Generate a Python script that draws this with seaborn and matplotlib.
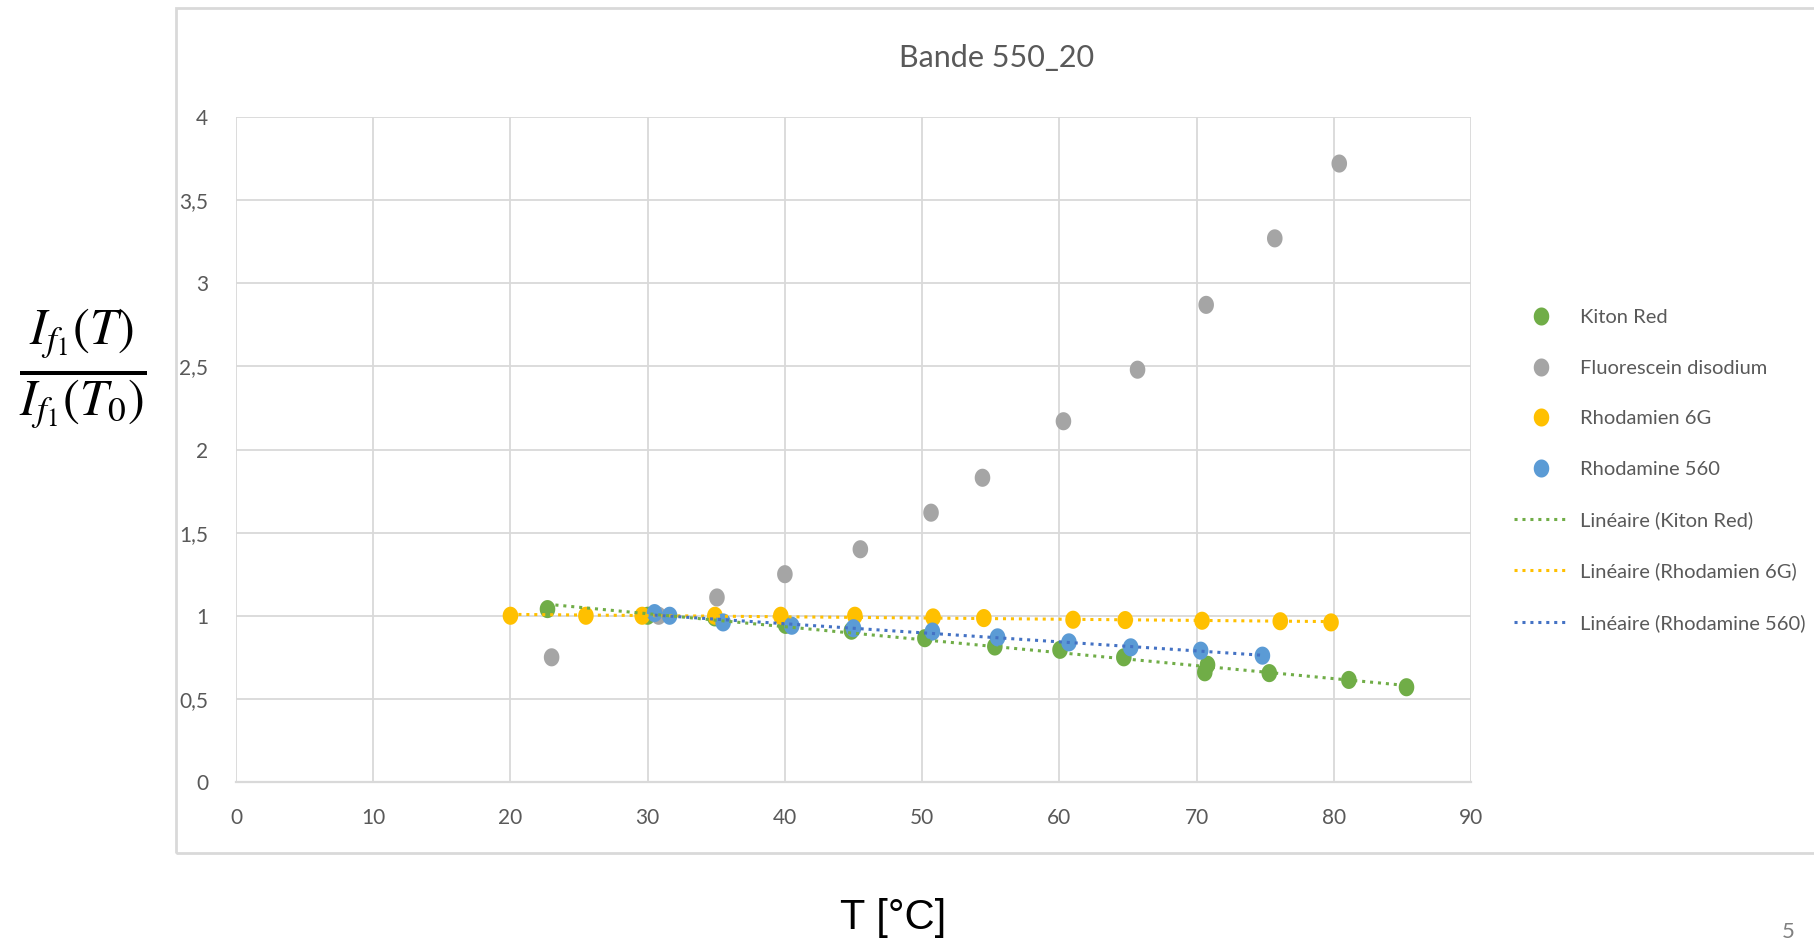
import numpy as np
import pandas as pd
import seaborn as sns
import matplotlib.pyplot as plt
from matplotlib.lines import Line2D
from matplotlib.patches import Rectangle
from matplotlib.path import Path

# values
kiton_t = [22.7, 30.0, 34.9, 40.05, 44.85, 50.2, 55.3, 60.05, 64.7, 70.6, 70.8, 75.3, 81.1, 85.3]
kiton_v = [1.04, 1.00, 0.99, 0.945, 0.91, 0.865, 0.815, 0.795, 0.75, 0.66, 0.705, 0.655, 0.614, 0.57]
fluo_t = [23.0, 30.8, 35.05, 40.0, 45.5, 50.65, 54.4, 60.3, 65.7, 70.7, 75.7, 80.4]
fluo_v = [0.75, 1.00, 1.11, 1.25, 1.40, 1.62, 1.83, 2.17, 2.48, 2.87, 3.27, 3.72]
rh6g_t = [20.0, 25.5, 29.6, 34.9, 39.7, 45.1, 50.8, 54.5, 61.0, 64.8, 70.4, 76.1, 79.8]
rh6g_v = [1.0, 1.0, 1.0, 1.0, 1.0, 1.0, 0.99, 0.986, 0.976, 0.974, 0.97, 0.967, 0.96]
rh560_t = [30.5, 31.6, 35.5, 40.5, 45.0, 50.75, 55.5, 60.7, 65.2, 70.3, 74.8]
rh560_v = [1.016, 1.0, 0.96, 0.94, 0.925, 0.905, 0.87, 0.84, 0.81, 0.79, 0.76]

names = ['Kiton Red', 'Fluorescein disodium', 'Rhodamien 6G', 'Rhodamine 560']
colors = ['#70AD47', '#A5A5A5', '#FFC000', '#5B9BD5']
trend_names = ['Kiton Red', 'Rhodamien 6G', 'Rhodamine 560']
trend_colors = ['#70AD47', '#FFC000', '#4472C4']
x_ticks = list(range(0, 100, 10))
y_ticks = [0, 0.5, 1, 1.5, 2, 2.5, 3, 3.5, 4]
y_labels = ['0', '0,5', '1', '1,5', '2', '2,5', '3', '3,5', '4']

df = pd.concat([
    pd.DataFrame({'T': kiton_t, 'ratio': kiton_v, 'dye': names[0]}),
    pd.DataFrame({'T': fluo_t, 'ratio': fluo_v, 'dye': names[1]}),
    pd.DataFrame({'T': rh6g_t, 'ratio': rh6g_v, 'dye': names[2]}),
    pd.DataFrame({'T': rh560_t, 'ratio': rh560_v, 'dye': names[3]}),
], ignore_index=True)

sns.set_style('white')
plt.rcParams['font.family'] = ['Lato', 'DejaVu Sans']
plt.rcParams['mathtext.fontset'] = 'stix'

# slightly tall ellipse marker like the excel dots
th = np.linspace(0, 2 * np.pi, 60)
dot = Path(np.column_stack([0.86 * np.cos(th), np.sin(th)]), closed=True)

fig = plt.figure(figsize=(18.14, 9.42), dpi=100)
ax = fig.add_axes([236 / 1814, 1 - 782 / 942, (1471 - 236) / 1814, (782 - 117) / 942])

sns.scatterplot(data=df, x='T', y='ratio', hue='dye', palette=dict(zip(names, colors)),
                marker=dot, s=170, linewidth=0, legend=False, ax=ax, zorder=3)

# excel style linear trendlines
for nm, c in zip(trend_names, trend_colors):
    sub = df[df['dye'] == nm]
    k, b = np.polyfit(sub['T'], sub['ratio'], 1)
    xs = np.array([sub['T'].min(), sub['T'].max()])
    ax.plot(xs, k * xs + b, color=c, lw=2.2, linestyle=(0, (1, 1.6)), zorder=4)

ax.set_xlim(0, 90)
ax.set_ylim(0, 4)
ax.set_xticks(x_ticks)
ax.set_yticks(y_ticks)
ax.set_yticklabels(y_labels)
ax.tick_params(axis='both', length=0, labelsize=15, labelcolor='#595959')
ax.tick_params(axis='x', pad=19)
ax.tick_params(axis='y', pad=20)
ax.grid(True, color='#D9D9D9', lw=1.3)
ax.set_axisbelow(True)
for s in ['top', 'right', 'left']:
    ax.spines[s].set_visible(False)
ax.spines['bottom'].set_color('#D9D9D9')
ax.spines['bottom'].set_linewidth(1.6)
ax.set_xlabel('')
ax.set_ylabel('')

fig.text(997 / 1814, 1 - 58 / 942, 'Bande 550_20', ha='center', va='center',
         fontsize=22, color='#595959')
fig.text(893 / 1814, 1 - 918 / 942, 'T [°C]', ha='center', va='center',
         fontsize=30, color='black', family=['Liberation Sans', 'DejaVu Sans'])
fig.text(83 / 1814, 1 - 370 / 942, r'$\frac{I_{f_1}(T)}{I_{f_1}(T_0)}$', ha='center', va='center',
         fontsize=52, color='black')
fig.text(1788 / 1814, 1 - 932 / 942, '5', ha='center', va='center', fontsize=16, color='#808080')

fig.patches.append(Rectangle((176 / 1814, 1 - 853 / 942), 1.0, (853 - 8) / 942,
                             transform=fig.transFigure, fill=False, edgecolor='#D9D9D9', lw=2))

handles = [Line2D([], [], marker=dot, linestyle='none', color=c, markersize=13, markeredgewidth=0)
           for c in colors]
handles += [Line2D([], [], color=c, lw=2.2, linestyle=(0, (1, 1.6))) for c in trend_colors]
labels = names + ['Linéaire (%s)' % n for n in trend_names]
fig.legend(handles, labels, loc='upper left', bbox_to_anchor=(1514 / 1814, 1 - 309 / 942),
           frameon=False, fontsize=14.5, labelcolor='#595959', handlelength=2.7,
           handletextpad=0.6, labelspacing=1.66, borderpad=0, borderaxespad=0)

fig.savefig('out.png', dpi=100)
